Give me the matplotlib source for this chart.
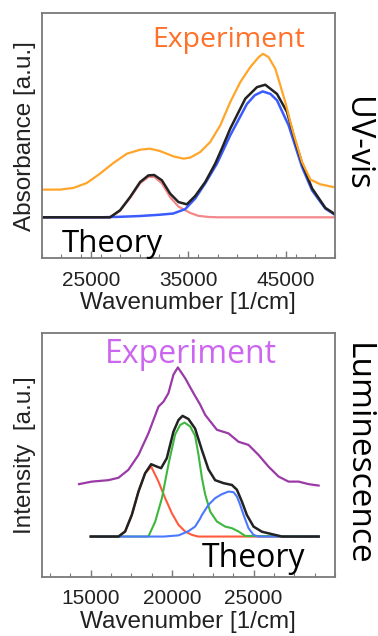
import matplotlib
matplotlib.use("Agg")
import matplotlib.pyplot as plt
from matplotlib.ticker import MultipleLocator

plt.rcParams['font.family'] = ['Liberation Sans', 'DejaVu Sans']

# ---- UV-vis absorption (wavenumber in 1/cm, arbitrary units) ----
uv_exp_x = [20000, 21850, 23210, 24580, 25950, 27310, 28690, 30050, 31080, 32100,
            33470, 34490, 35180, 36200, 37230, 38260, 39280, 40310, 41330, 42190,
            42630, 43210, 43900, 44410, 44920, 45440, 45780, 46630, 47490, 48510,
            49880, 50000]
uv_exp_y = [0.22, 0.22, 0.233, 0.272, 0.347, 0.431, 0.505, 0.537, 0.545, 0.526,
            0.484, 0.466, 0.474, 0.518, 0.598, 0.73, 0.915, 1.074, 1.193, 1.272,
            1.299, 1.272, 1.18, 1.048, 0.915, 0.756, 0.66, 0.44, 0.3, 0.262,
            0.24, 0.238]

uv_red_x = [20000, 27000, 28000, 29030, 30050, 30900, 31490, 32280, 33130, 33980,
            35180, 36000, 37000, 38000, 50000]
uv_red_y = [0, 0, 0.052, 0.155, 0.27, 0.32, 0.322, 0.27, 0.16, 0.085,
            0.035, 0.012, 0.003, 0, 0]

uv_blue_x = [20000, 26000, 28000, 30000, 32000, 33440, 34670, 35700, 36720, 37920,
             39280, 40990, 41800, 42600, 43400, 44070, 45260, 46630, 47660, 49020,
             50000]
uv_blue_y = [0, 0, 0.004, 0.01, 0.02, 0.03, 0.065, 0.15, 0.27, 0.426,
             0.651, 0.9, 0.97, 1.0, 0.98, 0.929, 0.73, 0.4, 0.214, 0.069,
             0.02]

uv_tot_x = [20000, 26970, 28000, 29030, 30050, 30900, 31490, 32280, 33130, 33980,
            34840, 35700, 36720, 37740, 38500, 39280, 40820, 42020, 42870, 44070,
            45100, 45950, 46630, 47660, 49020, 50000]
uv_tot_y = [0, 0, 0.056, 0.161, 0.28, 0.333, 0.336, 0.294, 0.188, 0.121,
            0.103, 0.17, 0.28, 0.426, 0.56, 0.704, 0.942, 1.034, 1.053, 0.98,
            0.836, 0.6, 0.43, 0.23, 0.075, 0.025]

# ---- Luminescence ----
lum_exp_x = [14280, 15060, 16080, 16700, 17310, 17930, 18540, 19160, 19470, 19770,
             20080, 20350, 20800, 21310, 21720, 22030, 22750, 23460, 24080, 24690,
             25310, 25920, 26540, 27150, 27770, 28380, 29000]
lum_exp_y = [0.437, 0.458, 0.47, 0.49, 0.556, 0.68, 0.86, 1.083, 1.125, 1.195,
             1.35, 1.41, 1.32, 1.195, 1.10, 1.014, 0.89, 0.86, 0.79, 0.764,
             0.68, 0.583, 0.5, 0.458, 0.458, 0.437, 0.425]

lum_red_x = [15000, 16700, 17110, 17520, 17930, 18340, 18710, 19160, 19570, 19980,
             20390, 20800, 21210, 21600, 29000]
lum_red_y = [0, 0, 0.042, 0.18, 0.375, 0.528, 0.583, 0.458, 0.32, 0.195,
             0.097, 0.042, 0.014, 0, 0]

lum_green_x = [15000, 18540, 18960, 19370, 19770, 20180, 20490, 20760, 21110, 21410,
               21620, 21830, 22030, 22340, 22750, 23260, 23670, 24080, 24490, 29000]
lum_green_y = [0, 0, 0.125, 0.32, 0.6, 0.85, 0.93, 0.95, 0.917, 0.84,
               0.68, 0.487, 0.35, 0.208, 0.125, 0.083, 0.07, 0.042, 0.005, 0]

lum_blue_x = [15000, 19500, 20400, 21000, 21410, 21720, 21830, 22230, 22640, 23050,
              23460, 23770, 23980, 24180, 24390, 24690, 25000, 25300, 29000]
lum_blue_y = [0, 0, 0.01, 0.045, 0.083, 0.15, 0.18, 0.264, 0.32, 0.353,
              0.375, 0.37, 0.333, 0.264, 0.18, 0.07, 0.014, 0, 0]

lum_tot_x = [15000, 16700, 17110, 17520, 17930, 18340, 18710, 19060, 19320, 19670,
             20080, 20390, 20640, 21000, 21410, 21830, 22230, 22640, 23160, 23670,
             23980, 24290, 24590, 25000, 25520, 26130, 26750, 29000]
lum_tot_y = [0, 0, 0.042, 0.18, 0.375, 0.528, 0.603, 0.583, 0.57, 0.653,
             0.875, 0.972, 1.006, 0.98, 0.9, 0.72, 0.56, 0.47, 0.445, 0.43,
             0.39, 0.29, 0.18, 0.083, 0.04, 0.02, 0, 0]

note_font = 'Open Sans'
spine_col = '#7a7a7a'

fig = plt.figure(figsize=(3.78, 6.36), dpi=100)


def style_axes(ax):
    for s in ax.spines.values():
        s.set_color(spine_col)
        s.set_linewidth(1.3)
    ax.set_yticks([])
    ax.tick_params(axis='x', which='both', direction='in', colors=spine_col,
                   labelcolor='#222222', labelsize=15, pad=9)
    ax.tick_params(axis='x', which='major', length=5, width=1)
    ax.tick_params(axis='x', which='minor', length=3, width=0.8)


# top panel: UV-vis
ax1 = fig.add_axes([0.111, 0.594, 0.775, 0.385])
ax1.plot(uv_red_x, uv_red_y, color='#f4878a', lw=1.6)
ax1.plot(uv_blue_x, uv_blue_y, color='#3a5cff', lw=1.8)
ax1.plot(uv_tot_x, uv_tot_y, color='#222222', lw=1.8)
ax1.plot(uv_exp_x, uv_exp_y, color='#ffa52a', lw=1.6)
ax1.set_xlim(20000, 50000)
ax1.set_ylim(-0.325, 1.62)
ax1.set_xticks([25000, 35000, 45000])
ax1.xaxis.set_minor_locator(MultipleLocator(2000))
style_axes(ax1)
ax1.set_xlabel('Wavenumber [1/cm]', fontsize=17.5, color='#222222', labelpad=2)
ax1.set_ylabel('Absorbance [a.u.]', fontsize=17.5, color='#222222', labelpad=4)
ax1.text(0.637, 0.861, 'Experiment', transform=ax1.transAxes, ha='center',
         va='baseline', fontsize=20.5, color='#ff7028', family=note_font)
ax1.text(0.068, 0.024, 'Theory', transform=ax1.transAxes, ha='left',
         va='baseline', fontsize=22.5, color='black', family=note_font)

# bottom panel: luminescence
ax2 = fig.add_axes([0.111, 0.093, 0.775, 0.384])
ax2.plot(lum_red_x, lum_red_y, color='#ff5a3c', lw=1.5)
ax2.plot(lum_green_x, lum_green_y, color='#3db83d', lw=1.5)
ax2.plot(lum_blue_x, lum_blue_y, color='#4a78ff', lw=1.5)
ax2.plot(lum_tot_x, lum_tot_y, color='#222222', lw=1.8)
ax2.plot(lum_exp_x, lum_exp_y, color='#9a3aa6', lw=1.6)
ax2.set_xlim(12000, 30000)
ax2.set_ylim(-0.336, 1.70)
ax2.set_xticks([15000, 20000, 25000])
ax2.xaxis.set_minor_locator(MultipleLocator(1250))
style_axes(ax2)
ax2.set_xlabel('Wavenumber [1/cm]', fontsize=17.5, color='#222222', labelpad=2)
ax2.set_ylabel('Intensity  [a.u.]', fontsize=17.5, color='#222222', labelpad=4)
ax2.text(0.215, 0.877, 'Experiment', transform=ax2.transAxes, ha='left',
         va='baseline', fontsize=23, color='#cc66f0', family=note_font)
ax2.text(0.545, 0.041, 'Theory', transform=ax2.transAxes, ha='left',
         va='baseline', fontsize=23, color='black', family=note_font)

# panel titles on the right, reading downward
fig.text(0.944, 0.774, 'UV-vis', rotation=270, ha='center', va='center',
         fontsize=23.5, color='black', family=note_font)
fig.text(0.944, 0.286, 'Luminescence', rotation=270, ha='center', va='center',
         fontsize=24, color='black', family=note_font)

fig.savefig('out.png', dpi=100)
